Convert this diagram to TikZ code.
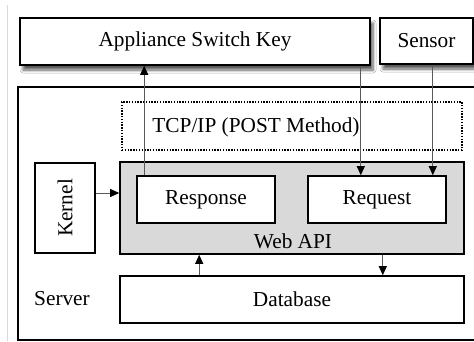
\documentclass[tikz,border=0pt]{standalone}
\usepackage{fontspec}
\setmainfont{Liberation Serif}
\usetikzlibrary{positioning,arrows.meta,shadows.blur}

\begin{document}
\begin{tikzpicture}[
  x=1pt, y=-1pt,
  txt/.style={font=\fontsize{21.3}{24}\selectfont, inner sep=0pt},
  box/.style={draw, line width=1.6pt, inner sep=0pt, fill=white, txt},
  shbox/.style={box, blur shadow={shadow xshift=3pt, shadow yshift=-5pt, shadow opacity=65, shadow blur steps=6, shadow blur radius=3pt}},
  arr/.style={-{Triangle[length=9pt,width=8pt,black]}, line width=0.8pt, draw=black!65}
]
  \clip (0,0) rectangle (474,341);
  \fill[white] (0,0) rectangle (474,341);
  \draw[gray!30, line width=0.8pt] (7,5) -- (7,341);

  % outside devices
  \node[shbox, minimum width=350pt, minimum height=47pt] (key) at (195,41.5) {Appliance Switch Key};
  \node[shbox, minimum width=93pt, minimum height=46pt] (sensor) at (426.5,41) {Sensor};

  % server side
  \node[box, line width=1.4pt, minimum width=472pt, minimum height=253pt] (server) at (254,213.5) {};
  \node[txt] (srvlabel) at (62,299) {Server};
  \node[draw, line width=1.4pt, dash pattern=on 1.4pt off 1.4pt, minimum width=340pt, minimum height=48pt] (tcp) at (292,126) {};
  \node[txt] (tcplabel) at (256,127) {TCP/IP (POST Method)};
  \node[box, fill=gray!30, minimum width=344pt, minimum height=92pt] (api) at (292,208) {};
  \node[txt] (apilabel) at (293,241) {Web API};
  \node[box, minimum width=138pt, minimum height=47pt] (resp) at (206,199.5) {Response};
  \node[box, minimum width=138pt, minimum height=47pt] (req) at (377,199.5) {Request};
  \node[box, rotate=90, minimum width=90pt, minimum height=60pt] (kernel) at (65,208) {Kernel};
  \node[box, minimum width=344pt, minimum height=47pt] (db) at (292,299.5) {Database};

  % connections
  \draw[arr] ([xshift=8pt]resp.north west) -- ([xshift=8pt]resp.north west |- key.south);
  \draw[arr] ([xshift=-10pt]key.south east) -- ([xshift=-10pt]key.south east |- req.north);
  \draw[arr] ([xshift=-14pt]req.north east |- sensor.south) -- ([xshift=-14pt]req.north east);
  \draw[arr] ([yshift=15pt]kernel.south) -- ([yshift=15pt]kernel.south -| api.west);
  \draw[arr] ([xshift=80pt]db.north west) -- ([xshift=80pt]db.north west |- api.south);
  \draw[arr] ([xshift=-82pt]api.south east) -- ([xshift=-82pt]api.south east |- db.north);
\end{tikzpicture}
\end{document}
